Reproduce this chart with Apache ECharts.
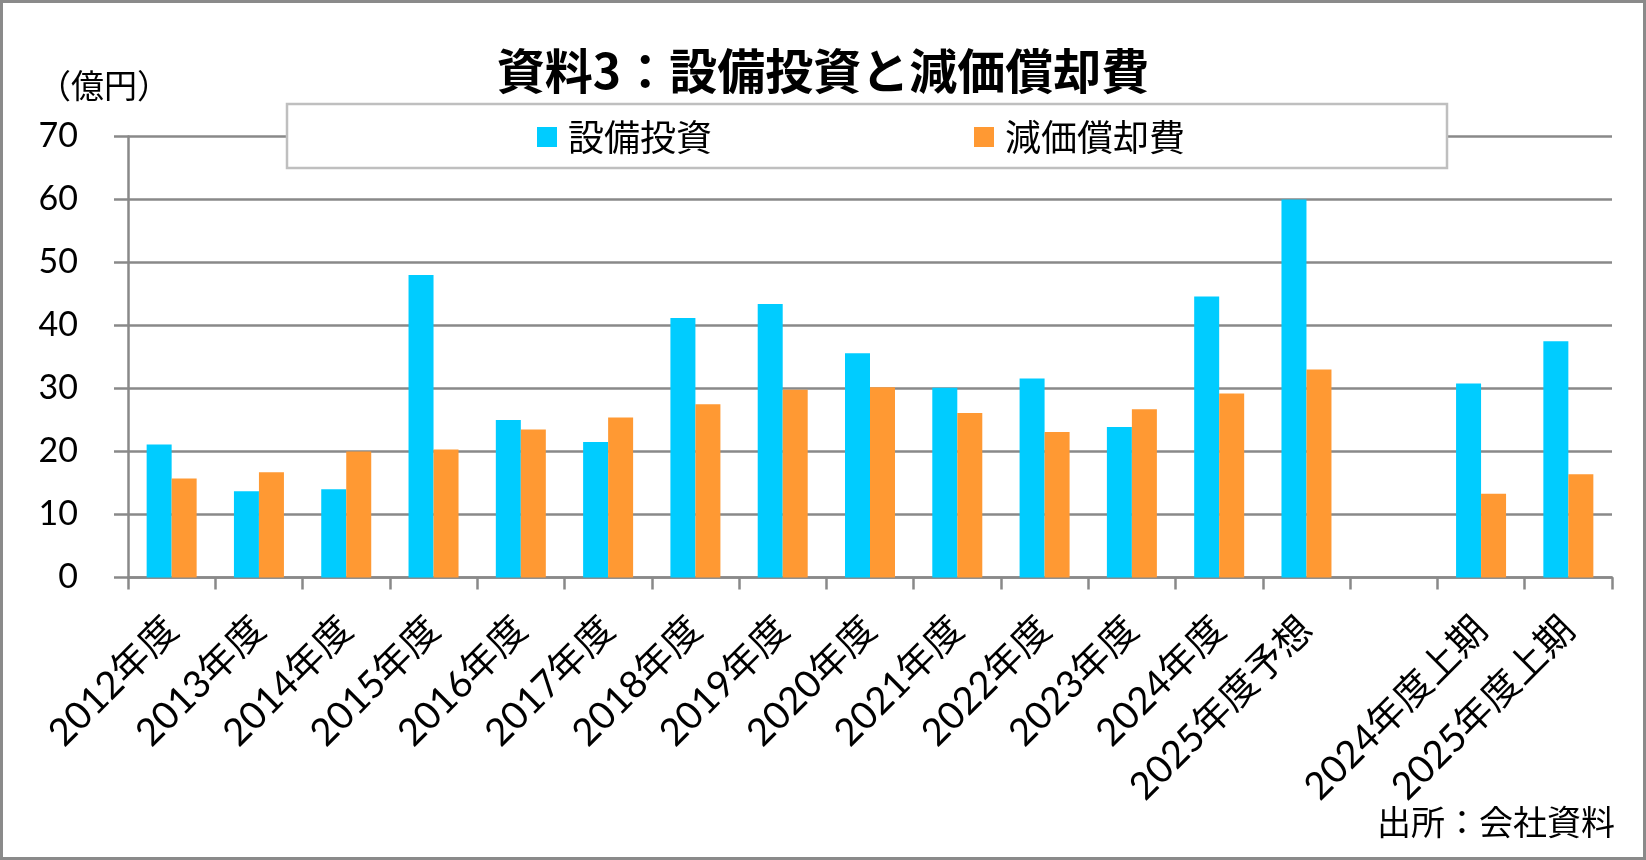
<!DOCTYPE html>
<html>
<head>
<meta charset="utf-8">
<script src="https://cdn.jsdelivr.net/npm/echarts@6/dist/echarts.min.js"></script>
<style>
html,body{margin:0;padding:0;background:#fff;}
#chart{width:1646px;height:860px;}
</style>
</head>
<body>
<div id="chart"></div>
<script>
var categories = ['2012年度','2013年度','2014年度','2015年度','2016年度','2017年度','2018年度','2019年度','2020年度','2021年度','2022年度','2023年度','2024年度','2025年度予想','','2024年度上期','2025年度上期'];
var capex = [21.1, 13.7, 14.0, 48.0, 25.0, 21.5, 41.2, 43.4, 35.6, 30.1, 31.6, 23.9, 44.6, 60.0, null, 30.8, 37.5];
var depreciation = [15.7, 16.7, 20.0, 20.3, 23.5, 25.4, 27.5, 29.8, 30.2, 26.1, 23.1, 26.7, 29.2, 33.0, null, 13.3, 16.4];
var seriesNames = ['設備投資', '減価償却費'];
var titleText = '資料3：設備投資と減価償却費';
var unitText = '（億円）';
var sourceText = '出所：会社資料';

var cjk = "'Noto Sans CJK JP', sans-serif";
var mixed = "Lato, 'Noto Sans CJK JP', sans-serif";
var gray = '#898989';

var chart = echarts.init(document.getElementById('chart'), null, {renderer: 'canvas'});
chart.setOption({
  animation: false,
  backgroundColor: '#fff',
  title: {
    text: titleText,
    left: 'center',
    top: 46,
    padding: 0,
    textStyle: {fontFamily: cjk, fontWeight: 'bold', fontSize: 48, color: '#000', lineHeight: 50}
  },
  legend: {
    left: 537,
    top: 118,
    padding: 0,
    itemGap: 262,
    itemWidth: 20,
    itemHeight: 20,
    icon: 'rect',
    z: 200,
    data: seriesNames,
    textStyle: {fontFamily: cjk, fontSize: 36, color: '#000', lineHeight: 38, padding: [0, 0, 0, 6]}
  },
  grid: {left: 128, right: 34, top: 136.5, bottom: 282.5, containLabel: false},
  xAxis: {
    type: 'category',
    data: categories,
    axisLine: {show: true, lineStyle: {color: gray, width: 2.5}},
    axisTick: {show: true, length: 12, interval: 0, lineStyle: {color: gray, width: 2.5}},
    axisLabel: {interval: 0, rotate: 45, margin: 46, fontFamily: mixed, fontSize: 38, color: '#000'}
  },
  yAxis: {
    type: 'value',
    min: 0, max: 70, interval: 10,
    axisLine: {show: true, lineStyle: {color: gray, width: 2.5}},
    axisTick: {show: true, length: 14, lineStyle: {color: gray, width: 2.5}},
    axisLabel: {margin: 50, fontFamily: mixed, fontSize: 34, color: '#000'},
    splitLine: {show: true, lineStyle: {color: gray, width: 2.5}}
  },
  series: [
    {name: seriesNames[0], type: 'bar', data: capex, barWidth: 25, barGap: '0%',
     itemStyle: {color: '#00CCFF'}},
    {name: seriesNames[1], type: 'bar', data: depreciation, barWidth: 25, barGap: '0%',
     itemStyle: {color: '#FF9933'}}
  ],
  graphic: [
    {type: 'rect', z: 100, shape: {x: 287, y: 104, width: 1160, height: 64},
     style: {fill: '#fff', stroke: '#bfbfbf', lineWidth: 2.5}},
    {type: 'text', z: 100, x: 38, y: 85,
     style: {text: unitText, fontFamily: cjk, fontSize: 33, fill: '#000', verticalAlign: 'middle', align: 'left'}},
    {type: 'text', z: 100, x: 1615, y: 822,
     style: {text: sourceText, fontFamily: cjk, fontSize: 34, fill: '#000', verticalAlign: 'middle', align: 'right'}},
    {type: 'rect', z: 100, shape: {x: 1.5, y: 1.5, width: 1643, height: 857},
     style: {fill: 'none', stroke: '#8a8a8a', lineWidth: 3}}
  ]
});
</script>
</body>
</html>
